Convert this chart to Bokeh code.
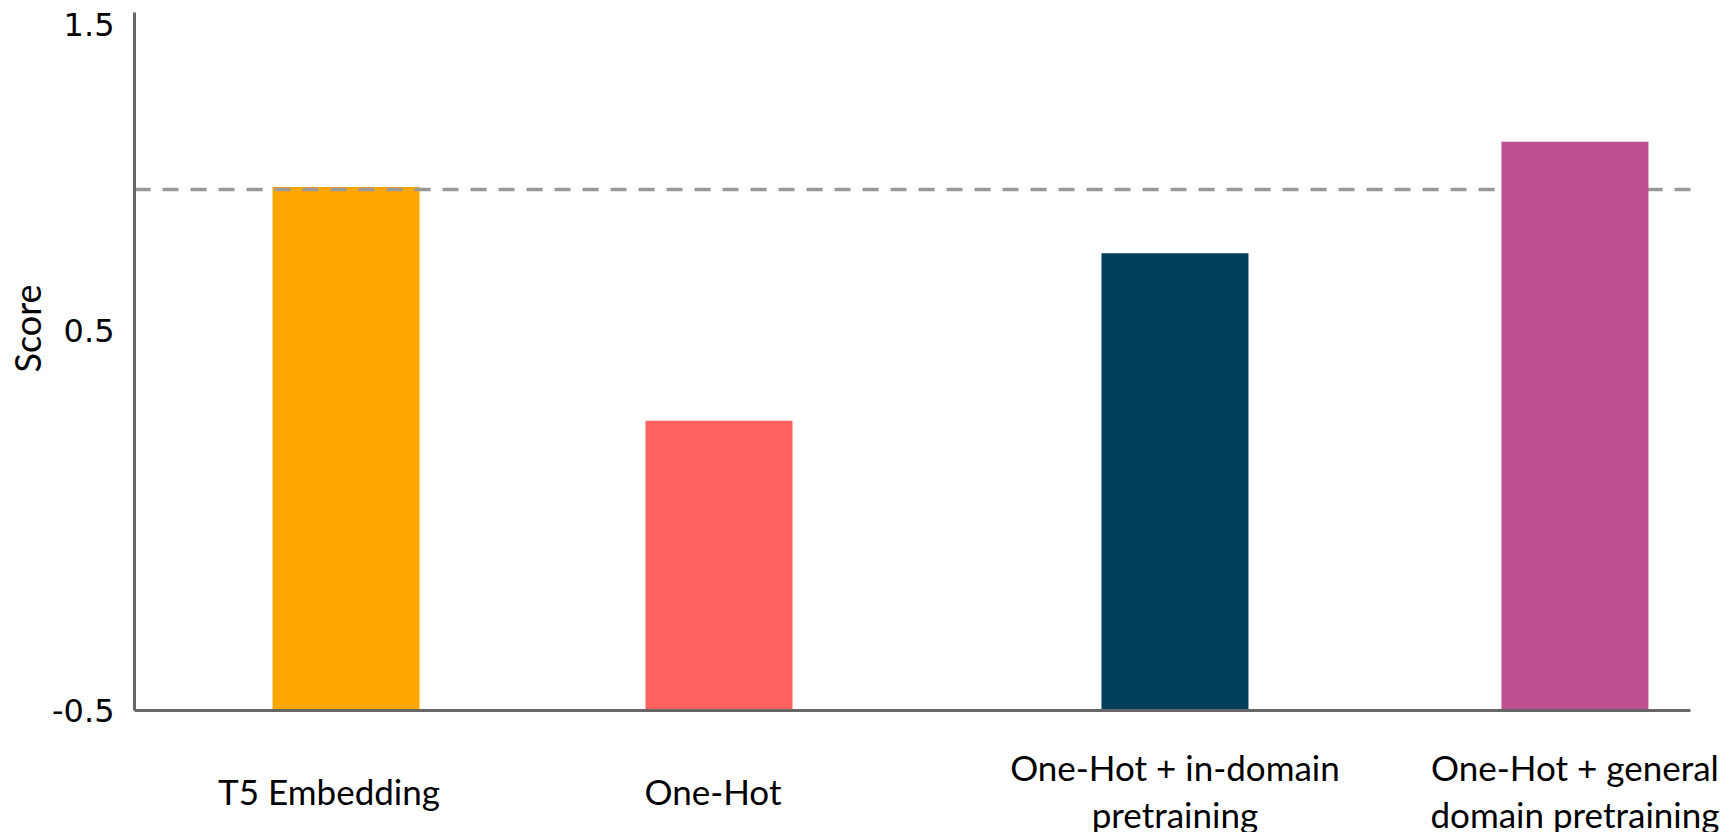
import math
from bokeh.plotting import figure
from bokeh.models import ColumnDataSource, Range1d, FixedTicker, CDSView, IndexFilter
from bokeh.core.properties import value
from bokeh.embed import file_html
from bokeh.resources import INLINE

# ---- data ----
categories = ["T5 Embedding", "One-Hot", "One-Hot + in-domain\npretraining",
              "One-Hot + general\ndomain pretraining"]
scores = [1.0, 0.33, 0.81, 1.13]
reference_score = 0.993
y_tick_labels = ["1.5", "0.5", "-0.5"]
y_axis_title = "Score"

# ---- layout / style ----
bar_colors = ["#FFA600", "#FF6361", "#003F5C", "#BC5090"]
x_positions = [1.439, 3.976, 7.078, 9.799]
label_x_offsets = [-17, -6, 0, 0]     # pixels
y_tick_positions = [1.466, 0.589, -0.5]
y_min, y_max = -0.5, 1.5
x_axis_start, x_axis_end = 0.0, 10.585
W, H = 1732, 832
px_per_x = 147.0      # pixels per x unit
px_per_y = 349.0      # pixels per y unit
frame_left, frame_top = 134, 12   # axis corner placement in pixels

x_lo = x_axis_start - frame_left / px_per_x
x_hi = x_lo + W / px_per_x
y_hi = y_max + frame_top / px_per_y
y_lo = y_hi - H / px_per_y

src = ColumnDataSource(dict(x=x_positions, top=scores, color=bar_colors, label=categories,
                            xoff=label_x_offsets))

p = figure(width=W, height=H, x_range=Range1d(x_lo, x_hi), y_range=Range1d(y_lo, y_hi),
           output_backend="svg", toolbar_location=None,
           min_border_left=0, min_border_right=0, min_border_top=0, min_border_bottom=0)
p.outline_line_color = None
p.background_fill_color = "white"
p.border_fill_color = "white"
p.xgrid.visible = False
p.ygrid.visible = False

p.vbar(x="x", top="top", bottom=y_min, width=1.0, fill_color="color", line_color=None, source=src,
       view=CDSView(filter=IndexFilter([0, 1, 2])))
p.segment(x0=[x_axis_start], x1=[x_axis_end], y0=[reference_score], y1=[reference_score],
          line_color="#999999", line_width=3.5, line_dash="16 12")
p.vbar(x="x", top="top", bottom=y_min, width=1.0, fill_color="color", line_color=None, source=src,
       view=CDSView(filter=IndexFilter([3])))

# category labels under the x axis
p.text(x="x", y=y_min, x_offset="xoff", y_offset=80, text="label", source=src,
       text_align="center", text_baseline="middle",
       text_font=value("Lato"), text_font_size="35px", text_color="#000000",
       text_line_height=1.1)

# y axis title
p.text(x=[x_axis_start], y=[y_max], x_offset=-108, y_offset=316, text=[y_axis_title],
       angle=math.pi / 2, text_align="center", text_baseline="middle",
       text_font=value("Lato"), text_font_size="36px", text_color="#000000")

# x axis (line only)
xa = p.xaxis[0]
xa.fixed_location = y_min
xa.bounds = (x_axis_start, x_axis_end)
xa.ticker = FixedTicker(ticks=[])
xa.axis_line_color = "#666666"
xa.axis_line_width = 3
xa.major_tick_line_color = None
xa.minor_tick_line_color = None

# y axis
ya = p.yaxis[0]
ya.fixed_location = x_axis_start
ya.bounds = (y_min, y_max)
ya.ticker = FixedTicker(ticks=y_tick_positions)
ya.major_label_overrides = {pos: lab for pos, lab in zip(y_tick_positions, y_tick_labels)}
ya.axis_line_color = "#666666"
ya.axis_line_width = 3
ya.major_tick_line_color = None
ya.minor_tick_line_color = None
ya.major_label_standoff = 14
ya.major_label_text_font = "DejaVu Sans"
ya.major_label_text_font_size = "32px"
ya.major_label_text_color = "#000000"

open("out.html", "w").write(file_html(p, INLINE))
